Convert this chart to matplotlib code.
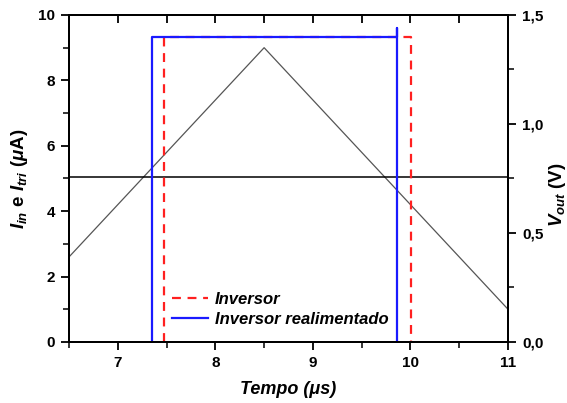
import matplotlib
matplotlib.use("Agg")
import matplotlib.pyplot as plt
from matplotlib.ticker import MultipleLocator, FuncFormatter

# dados
t_tri = [6.5, 8.5, 11.0]
i_tri = [2.6, 9.0, 1.0]
t_in = [6.5, 11.0]
i_in = [5.05, 5.05]

t_inv = [7.47, 7.47, 10.01, 10.01]
v_inv = [0.0, 1.40, 1.40, 0.0]
t_real = [7.35, 7.35, 9.86, 9.86, 9.86]
v_real = [0.0, 1.40, 1.40, 1.44, 0.0]

x_ticks = [7, 8, 9, 10, 11]
y_ticks = [0, 2, 4, 6, 8, 10]
v_ticks = [0.0, 0.5, 1.0, 1.5]

plt.rcParams['font.family'] = ['Liberation Sans', 'DejaVu Sans']
plt.rcParams['font.weight'] = 'bold'
plt.rcParams['axes.labelweight'] = 'bold'
plt.rcParams['mathtext.fontset'] = 'custom'
plt.rcParams['mathtext.rm'] = 'Liberation Sans:bold'
plt.rcParams['mathtext.it'] = 'Liberation Sans:italic:bold'
plt.rcParams['mathtext.bf'] = 'Liberation Sans:bold'

fig = plt.figure(figsize=(5.67, 4.03), dpi=100)
ax = fig.add_axes([0.1217, 0.1514, 0.7743, 0.8114])
ax2 = ax.twinx()

# correntes (eixo esquerdo)
ax.plot(t_tri, i_tri, color='#555555', lw=0.9)
ax.plot(t_in, i_in, color='black', lw=1.1)

# tensoes de saida (eixo direito)
ax2.plot(t_inv, v_inv, color='#ff2020', lw=1.6, ls=(0, (4, 3)), label='Inversor')
ax2.plot(t_real, v_real, color='#1a1aff', lw=1.6, label='Inversor realimentado')

ax.set_xlim(6.5, 11)
ax.set_ylim(0, 10)
ax2.set_ylim(0, 1.5)
ax.set_xticks(x_ticks)
ax.set_yticks(y_ticks)
ax2.set_yticks(v_ticks)
ax.xaxis.set_minor_locator(MultipleLocator(0.5))
ax.yaxis.set_minor_locator(MultipleLocator(1))
ax2.yaxis.set_minor_locator(MultipleLocator(0.25))
ax2.yaxis.set_major_formatter(FuncFormatter(lambda v, p: f"{v:.1f}".replace('.', ',')))

for a in (ax, ax2):
    for s in a.spines.values():
        s.set_linewidth(1.4)
ax.tick_params(axis='both', which='major', labelsize=11, width=1.3, length=6, pad=4)
ax.tick_params(axis='both', which='minor', width=1.1, length=4)
ax2.tick_params(axis='y', which='major', labelsize=11, width=1.3, length=6, pad=4)
ax2.tick_params(axis='y', which='minor', width=1.1, length=4)

# marcas do eixo superior, para dentro
top = ax.secondary_xaxis('top')
top.set_xticks(x_ticks)
top.xaxis.set_minor_locator(MultipleLocator(0.5))
top.tick_params(axis='x', which='both', direction='in', length=6, width=1.3, labeltop=False)
top.spines['top'].set_linewidth(1.4)

ax.set_xlabel('Tempo (μs)', fontsize=13, fontstyle='italic', labelpad=8)
ax.set_ylabel(r'$I_{in}$ e $I_{tri}$ ($\mu$A)', fontsize=13.5, labelpad=6)
ax2.set_ylabel(r'$V_{out}$ (V)', fontsize=13.5, labelpad=3)
ax2.yaxis.label.set_y(0.45)

leg = ax2.legend(loc='lower left', bbox_to_anchor=(0.2, 0.0), frameon=False,
                 handlelength=2.2, handletextpad=0.4, labelspacing=0.3,
                 prop={'size': 12, 'style': 'italic', 'weight': 'bold'})

fig.savefig('out.png', dpi=100)
